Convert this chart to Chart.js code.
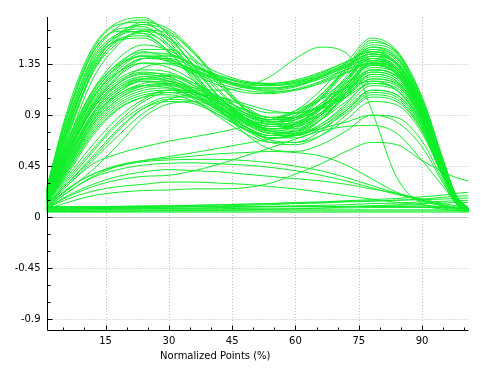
<!DOCTYPE html>
<html>
<head>
<meta charset="utf-8">
<script src="https://cdn.jsdelivr.net/npm/chart.js@4/dist/chart.umd.min.js"></script>
<style>
html,body{margin:0;padding:0;background:#fff;}
canvas{display:block;}
</style>
</head>
<body>
<canvas id="c" width="485" height="377"></canvas>
<script>
// ---- axis / tick labels ----
const xAxisTitle = 'Normalized Points (%)';
const xMajorTicks = [15, 30, 45, 60, 75, 90];
const xMinorTicks = [5, 10, 20, 25, 35, 40, 50, 55, 65, 70, 80, 85, 95, 100];
const yMajorTicks = [-0.9, -0.45, 0, 0.45, 0.9, 1.35];
const yMinorTicks = [-0.75, -0.6, -0.3, -0.15, 0.15, 0.3, 0.6, 0.75, 1.05, 1.2, 1.5, 1.65];

// ---- sample positions along the normalized cycle (%) ----
const xs = [1, 6, 12, 18, 24, 30, 36, 42, 48, 54, 60, 66, 72, 78, 84, 90, 95, 98, 101];

// ---- high first-peak curves ----
const h1  = [0.25,0.95,1.50,1.72,1.76,1.60,1.32,1.05,0.88,0.82,0.88,1.05,1.30,1.50,1.40,1.00,0.48,0.18,0.07];
const h2  = [0.22,0.85,1.42,1.68,1.74,1.62,1.38,1.12,0.92,0.84,0.90,1.08,1.32,1.56,1.45,1.05,0.50,0.20,0.08];
const h3  = [0.20,0.78,1.35,1.62,1.70,1.58,1.33,1.06,0.86,0.76,0.80,0.98,1.22,1.44,1.36,0.98,0.46,0.17,0.07];
const h4  = [0.24,0.88,1.45,1.66,1.68,1.52,1.25,0.98,0.80,0.72,0.78,0.95,1.20,1.40,1.32,0.95,0.44,0.16,0.06];
const h5  = [0.18,0.70,1.28,1.58,1.70,1.64,1.45,1.20,0.98,0.88,0.92,1.08,1.30,1.52,1.44,1.02,0.50,0.19,0.08];
const h6  = [0.21,0.80,1.38,1.60,1.64,1.50,1.26,1.02,0.84,0.74,0.76,0.92,1.15,1.38,1.30,0.94,0.44,0.16,0.06];
const h7  = [0.26,0.92,1.48,1.70,1.72,1.55,1.28,1.00,0.80,0.70,0.74,0.90,1.14,1.34,1.27,0.92,0.42,0.15,0.06];
const h8  = [0.19,0.72,1.30,1.56,1.62,1.52,1.30,1.06,0.88,0.80,0.86,1.04,1.28,1.50,1.42,1.02,0.48,0.18,0.07];
const h9  = [0.23,0.84,1.40,1.62,1.66,1.56,1.34,1.10,0.92,0.86,0.94,1.12,1.36,1.58,1.47,1.06,0.51,0.20,0.08];
const h10 = [0.20,0.76,1.33,1.57,1.60,1.46,1.22,0.98,0.80,0.70,0.72,0.86,1.08,1.30,1.24,0.90,0.42,0.15,0.06];
const h11 = [0.17,0.66,1.22,1.52,1.65,1.62,1.44,1.18,0.95,0.82,0.82,0.96,1.20,1.46,1.40,1.00,0.48,0.18,0.07];
const h12 = [0.22,0.82,1.36,1.56,1.58,1.45,1.24,1.02,0.86,0.78,0.82,0.98,1.22,1.42,1.35,0.97,0.46,0.17,0.07];
const h13 = [0.21,0.78,1.32,1.60,1.72,1.66,1.46,1.20,0.96,0.84,0.86,1.00,1.24,1.48,1.41,1.00,0.48,0.18,0.07];
const h14 = [0.24,0.90,1.46,1.64,1.62,1.46,1.20,0.95,0.78,0.70,0.72,0.86,1.10,1.36,1.30,0.94,0.44,0.16,0.06];
const h15 = [0.19,0.74,1.28,1.54,1.64,1.58,1.40,1.16,0.96,0.86,0.90,1.06,1.30,1.54,1.46,1.04,0.50,0.19,0.08];

// ---- plateau curves ----
const m1  = [0.18,0.60,1.05,1.32,1.45,1.44,1.34,1.24,1.18,1.16,1.18,1.24,1.32,1.40,1.30,0.94,0.44,0.16,0.06];
const m2  = [0.16,0.55,0.98,1.25,1.40,1.42,1.34,1.25,1.19,1.17,1.19,1.25,1.34,1.42,1.32,0.95,0.45,0.17,0.07];
const m3  = [0.20,0.65,1.10,1.36,1.46,1.40,1.28,1.18,1.12,1.10,1.13,1.20,1.30,1.38,1.28,0.92,0.43,0.16,0.06];
const m4  = [0.15,0.50,0.92,1.18,1.32,1.36,1.30,1.22,1.16,1.14,1.16,1.22,1.30,1.36,1.26,0.90,0.42,0.15,0.06];
const m5  = [0.19,0.62,1.08,1.34,1.48,1.48,1.38,1.27,1.20,1.18,1.20,1.27,1.37,1.46,1.36,0.98,0.47,0.18,0.07];
const m6  = [0.17,0.58,1.02,1.28,1.40,1.38,1.29,1.20,1.14,1.12,1.15,1.23,1.33,1.44,1.34,0.96,0.46,0.17,0.07];
const m7  = [0.21,0.68,1.12,1.35,1.42,1.37,1.26,1.16,1.10,1.09,1.12,1.19,1.28,1.35,1.26,0.91,0.42,0.15,0.06];
const m8  = [0.16,0.54,0.97,1.24,1.36,1.35,1.28,1.21,1.17,1.16,1.19,1.26,1.35,1.44,1.35,0.97,0.46,0.17,0.07];
const m9  = [0.18,0.60,1.04,1.30,1.43,1.43,1.34,1.23,1.15,1.11,1.12,1.18,1.27,1.36,1.27,0.92,0.43,0.16,0.06];
const m10 = [0.20,0.66,1.12,1.40,1.52,1.47,1.34,1.22,1.15,1.13,1.16,1.24,1.36,1.48,1.38,0.99,0.48,0.18,0.07];
const m11 = [0.17,0.57,1.00,1.27,1.40,1.40,1.32,1.24,1.19,1.18,1.21,1.28,1.37,1.46,1.36,0.98,0.47,0.18,0.07];
const m12 = [0.19,0.63,1.08,1.33,1.42,1.39,1.30,1.21,1.15,1.14,1.17,1.24,1.33,1.40,1.30,0.93,0.44,0.16,0.06];

// ---- lower first-peak curves ----
const l1  = [0.15,0.50,0.90,1.12,1.22,1.22,1.14,1.02,0.90,0.84,0.88,1.00,1.18,1.34,1.26,0.90,0.42,0.15,0.06];
const l2  = [0.14,0.46,0.85,1.08,1.18,1.20,1.12,0.98,0.85,0.78,0.80,0.92,1.10,1.28,1.22,0.88,0.41,0.15,0.06];
const l3  = [0.17,0.56,0.98,1.20,1.28,1.24,1.12,0.97,0.84,0.78,0.82,0.96,1.16,1.36,1.30,0.94,0.44,0.16,0.06];
const l4  = [0.13,0.42,0.80,1.02,1.12,1.14,1.08,0.96,0.84,0.76,0.76,0.86,1.02,1.18,1.12,0.82,0.38,0.14,0.06];
const l5  = [0.16,0.52,0.92,1.14,1.24,1.25,1.18,1.06,0.94,0.88,0.92,1.04,1.22,1.40,1.32,0.95,0.45,0.17,0.07];
const l6  = [0.12,0.40,0.76,0.98,1.08,1.10,1.05,0.95,0.83,0.74,0.72,0.80,0.96,1.12,1.08,0.80,0.37,0.13,0.05];
const l7  = [0.15,0.48,0.88,1.10,1.20,1.18,1.08,0.94,0.80,0.72,0.72,0.82,1.00,1.20,1.16,0.85,0.40,0.15,0.06];
const l8  = [0.18,0.58,1.00,1.22,1.30,1.28,1.18,1.04,0.90,0.82,0.84,0.96,1.16,1.38,1.32,0.95,0.45,0.17,0.07];
const l9  = [0.14,0.44,0.82,1.04,1.14,1.16,1.10,1.00,0.90,0.84,0.86,0.96,1.12,1.28,1.22,0.88,0.41,0.15,0.06];
const l10 = [0.13,0.40,0.74,0.96,1.06,1.08,1.02,0.90,0.77,0.66,0.64,0.72,0.90,1.06,1.02,0.76,0.35,0.13,0.05];
const l11 = [0.16,0.54,0.95,1.16,1.24,1.20,1.08,0.93,0.80,0.72,0.74,0.86,1.06,1.26,1.20,0.87,0.41,0.15,0.06];
const l12 = [0.17,0.55,0.96,1.18,1.27,1.26,1.16,1.01,0.87,0.80,0.83,0.97,1.18,1.42,1.36,0.98,0.47,0.18,0.07];
const l13 = [0.12,0.38,0.72,0.95,1.06,1.12,1.10,1.02,0.92,0.86,0.88,0.98,1.14,1.30,1.24,0.89,0.42,0.15,0.06];
const l14 = [0.15,0.50,0.90,1.12,1.20,1.16,1.04,0.88,0.74,0.66,0.66,0.76,0.94,1.12,1.08,0.80,0.37,0.14,0.05];
const l15 = [0.19,0.62,1.06,1.28,1.36,1.32,1.20,1.04,0.88,0.78,0.78,0.90,1.10,1.32,1.27,0.92,0.43,0.16,0.06];
const l16 = [0.14,0.45,0.84,1.06,1.16,1.17,1.11,1.00,0.88,0.80,0.80,0.90,1.06,1.22,1.18,0.86,0.40,0.15,0.06];
const l17 = [0.10,0.24,0.42,0.64,0.88,1.00,1.02,0.94,0.74,0.60,0.58,0.64,0.76,0.90,0.88,0.67,0.32,0.12,0.05];
const l18 = [0.12,0.30,0.52,0.76,0.96,1.04,1.02,0.92,0.78,0.68,0.66,0.72,0.86,1.02,0.99,0.74,0.35,0.13,0.05];
const l19 = [0.13,0.34,0.60,0.84,1.02,1.10,1.10,1.04,0.95,0.88,0.88,0.95,1.08,1.22,1.17,0.85,0.40,0.15,0.06];
const l20 = [0.11,0.28,0.50,0.72,0.92,1.04,1.08,1.06,1.00,0.94,0.92,0.96,1.06,1.18,1.14,0.83,0.39,0.14,0.05];
const l21 = [0.14,0.44,0.82,1.04,1.16,1.18,1.12,1.00,0.86,0.76,0.74,0.82,0.98,1.16,1.12,0.82,0.38,0.14,0.05];
const l22 = [0.16,0.50,0.88,1.08,1.16,1.14,1.06,0.94,0.82,0.74,0.76,0.88,1.08,1.30,1.25,0.90,0.42,0.15,0.06];
const l23 = [0.12,0.32,0.58,0.82,0.98,1.06,1.06,0.98,0.86,0.76,0.74,0.80,0.94,1.10,1.06,0.78,0.36,0.13,0.05];
const l24 = [0.13,0.36,0.64,0.88,1.04,1.12,1.12,1.06,0.98,0.92,0.92,0.98,1.10,1.26,1.20,0.87,0.41,0.15,0.06];
const l25 = [0.15,0.47,0.86,1.10,1.22,1.24,1.16,1.04,0.92,0.86,0.88,0.98,1.16,1.34,1.28,0.93,0.44,0.16,0.06];
const l26 = [0.11,0.30,0.54,0.78,0.96,1.02,1.00,0.90,0.78,0.70,0.70,0.78,0.92,1.08,1.04,0.77,0.36,0.13,0.05];
const l27 = [0.17,0.55,0.96,1.18,1.26,1.22,1.10,0.96,0.84,0.78,0.80,0.92,1.12,1.36,1.31,0.95,0.45,0.17,0.07];
const l28 = [0.14,0.42,0.78,1.00,1.10,1.12,1.06,0.96,0.86,0.80,0.82,0.92,1.08,1.24,1.19,0.86,0.40,0.15,0.06];

// ---- early second-peak curve ----
const e1  = [0.16,0.52,0.92,1.14,1.22,1.20,1.14,1.12,1.15,1.24,1.40,1.50,1.45,0.95,0.35,0.12,0.07,0.06,0.05];

// ---- low curves ----
const w1 = [0.09,0.28,0.47,0.56,0.62,0.67,0.71,0.75,0.80,0.86,0.94,1.04,1.14,1.20,1.12,0.82,0.38,0.14,0.05];
const w2 = [0.09,0.22,0.36,0.45,0.50,0.535,0.57,0.61,0.65,0.69,0.73,0.78,0.84,0.90,0.84,0.62,0.30,0.12,0.05];
const w3 = [0.09,0.25,0.38,0.45,0.49,0.505,0.51,0.51,0.50,0.48,0.45,0.41,0.35,0.28,0.21,0.15,0.10,0.08,0.07];
const w4 = [0.08,0.22,0.35,0.42,0.46,0.476,0.48,0.47,0.46,0.44,0.41,0.37,0.32,0.26,0.20,0.15,0.11,0.09,0.08];
const w5 = [0.08,0.19,0.29,0.36,0.40,0.42,0.41,0.40,0.38,0.36,0.34,0.32,0.29,0.25,0.21,0.16,0.12,0.10,0.08];
const w6 = [0.08,0.18,0.27,0.33,0.36,0.37,0.41,0.47,0.54,0.61,0.69,0.76,0.80,0.81,0.74,0.50,0.27,0.14,0.08];
const w7 = [0.08,0.16,0.23,0.27,0.29,0.31,0.31,0.30,0.29,0.27,0.25,0.22,0.19,0.16,0.13,0.11,0.09,0.08,0.07];
const w8 = [0.07,0.13,0.19,0.22,0.235,0.24,0.25,0.25,0.26,0.30,0.38,0.47,0.58,0.66,0.64,0.50,0.40,0.35,0.32];
const w9 = [0.09,0.25,0.38,0.46,0.50,0.52,0.54,0.56,0.57,0.58,0.57,0.54,0.46,0.34,0.22,0.14,0.10,0.08,0.07];

// ---- near-zero baseline curves ----
const b1  = [0.045,0.045,0.045,0.045,0.045,0.045,0.045,0.045,0.045,0.045,0.045,0.045,0.045,0.045,0.045,0.045,0.045,0.045,0.045];
const b2  = [0.055,0.055,0.055,0.055,0.055,0.055,0.055,0.055,0.055,0.055,0.055,0.055,0.055,0.055,0.055,0.055,0.055,0.055,0.055];
const b3  = [0.065,0.065,0.065,0.065,0.065,0.065,0.065,0.065,0.065,0.065,0.065,0.065,0.065,0.065,0.065,0.065,0.065,0.06,0.06];
const b4  = [0.075,0.075,0.075,0.075,0.075,0.075,0.075,0.075,0.078,0.08,0.08,0.08,0.082,0.085,0.085,0.085,0.08,0.07,0.06];
const b5  = [0.085,0.085,0.085,0.085,0.085,0.088,0.09,0.09,0.09,0.092,0.095,0.095,0.095,0.098,0.10,0.10,0.09,0.08,0.07];
const b6  = [0.095,0.095,0.095,0.095,0.095,0.095,0.095,0.095,0.095,0.095,0.095,0.095,0.095,0.095,0.095,0.09,0.085,0.08,0.075];
const b7  = [0.08,0.08,0.085,0.09,0.095,0.10,0.105,0.11,0.115,0.12,0.13,0.135,0.145,0.155,0.165,0.18,0.195,0.21,0.22];
const b8  = [0.07,0.07,0.075,0.08,0.085,0.09,0.095,0.10,0.105,0.11,0.12,0.125,0.135,0.14,0.15,0.16,0.175,0.185,0.19];
const b9  = [0.06,0.06,0.065,0.07,0.075,0.078,0.08,0.085,0.09,0.095,0.10,0.105,0.11,0.12,0.125,0.135,0.14,0.145,0.15];
const b10 = [0.09,0.09,0.09,0.095,0.10,0.10,0.105,0.11,0.115,0.12,0.125,0.13,0.14,0.145,0.15,0.155,0.16,0.165,0.17];
const b11 = [0.05,0.05,0.05,0.052,0.055,0.058,0.06,0.062,0.065,0.07,0.075,0.08,0.09,0.10,0.11,0.12,0.125,0.13,0.13];

const allSeries = [
  h1,h2,h3,h4,h5,h6,h7,h8,h9,h10,h11,h12,h13,h14,h15,
  m1,m2,m3,m4,m5,m6,m7,m8,m9,m10,m11,m12,
  l1,l2,l3,l4,l5,l6,l7,l8,l9,l10,l11,l12,l13,l14,l15,l16,l17,l18,l19,l20,
  l21,l22,l23,l24,l25,l26,l27,l28,
  e1,
  w1,w2,w3,w4,w5,w6,w7,w8,w9,
  b1,b2,b3,b4,b5,b6,b7,b8,b9,b10,b11
];

const lineColor = 'rgb(17,238,42)';
const FONT = 'DejaVu Sans';

const axisDecor = {
  id: 'axisDecor',
  beforeDatasetsDraw(chart) {
    const {ctx, chartArea: a, scales: {x, y}} = chart;
    ctx.save();
    ctx.lineWidth = 1;
    ctx.strokeStyle = '#bdbdbd';
    ctx.setLineDash([1, 2]);
    xMajorTicks.forEach(v => {
      const px = Math.round(x.getPixelForValue(v)) + 0.5;
      ctx.beginPath(); ctx.moveTo(px, a.top); ctx.lineTo(px, a.bottom); ctx.stroke();
    });
    yMajorTicks.forEach(v => {
      if (v === 0) return;
      const py = Math.round(y.getPixelForValue(v)) + 0.5;
      ctx.beginPath(); ctx.moveTo(a.left, py); ctx.lineTo(a.right, py); ctx.stroke();
    });
    ctx.setLineDash([]);
    ctx.strokeStyle = '#c4c4c4';
    const zy = Math.round(y.getPixelForValue(0)) + 0.5;
    ctx.beginPath(); ctx.moveTo(a.left, zy); ctx.lineTo(a.right, zy); ctx.stroke();
    ctx.restore();
  },
  afterDatasetsDraw(chart) {
    const {ctx, chartArea: a, scales: {x, y}} = chart;
    ctx.save();
    ctx.strokeStyle = '#000';
    ctx.lineWidth = 1;
    const lx = Math.round(a.left) + 0.5;
    const by = Math.round(a.bottom) + 0.5;
    ctx.beginPath();
    ctx.moveTo(lx, a.top); ctx.lineTo(lx, by);
    ctx.moveTo(lx, by); ctx.lineTo(a.right, by);
    ctx.stroke();
    ctx.beginPath();
    xMajorTicks.forEach(v => { const px = Math.round(x.getPixelForValue(v)) + 0.5; ctx.moveTo(px, by); ctx.lineTo(px, by - 5); });
    xMinorTicks.forEach(v => { const px = Math.round(x.getPixelForValue(v)) + 0.5; ctx.moveTo(px, by); ctx.lineTo(px, by - 3); });
    yMajorTicks.forEach(v => { const py = Math.round(y.getPixelForValue(v)) + 0.5; ctx.moveTo(lx, py); ctx.lineTo(lx + 5, py); });
    yMinorTicks.forEach(v => { const py = Math.round(y.getPixelForValue(v)) + 0.5; ctx.moveTo(lx, py); ctx.lineTo(lx + 3, py); });
    ctx.stroke();
    // axis title
    ctx.fillStyle = '#000';
    ctx.font = '10px "' + FONT + '"';
    ctx.textAlign = 'center';
    ctx.textBaseline = 'alphabetic';
    ctx.fillText(xAxisTitle, a.left + (a.right - a.left) * 0.4, a.bottom + 28.5);
    ctx.restore();
  }
};

new Chart(document.getElementById('c'), {
  type: 'line',
  data: {
    datasets: allSeries.map(vals => ({
      data: vals.map((v, i) => ({x: xs[i], y: v})),
      borderColor: lineColor,
      borderWidth: 1,
      pointRadius: 0,
      fill: false,
      cubicInterpolationMode: 'monotone'
    }))
  },
  options: {
    responsive: false,
    animation: false,
    devicePixelRatio: 1,
    layout: {padding: {left: 0, top: 17, right: 16.5, bottom: 0}},
    plugins: {legend: {display: false}, tooltip: {enabled: false}},
    scales: {
      x: {
        type: 'linear', min: 1, max: 101,
        afterBuildTicks: s => { s.ticks = xMajorTicks.map(v => ({value: v})); },
        afterFit: s => { s.height = 47; },
        grid: {display: false, drawTicks: false},
        border: {display: false},
        ticks: {font: {family: FONT, size: 10}, color: '#000', padding: 5, maxRotation: 0, autoSkip: false}
      },
      y: {
        type: 'linear', min: -0.995, max: 1.766,
        afterBuildTicks: s => { s.ticks = yMajorTicks.map(v => ({value: v})); },
        afterFit: s => { s.width = 46.5; },
        grid: {display: false, drawTicks: false},
        border: {display: false},
        ticks: {font: {family: FONT, size: 10}, color: '#000', padding: 6, autoSkip: false,
                callback: v => String(v)}
      }
    }
  },
  plugins: [axisDecor]
});
</script>
</body>
</html>
